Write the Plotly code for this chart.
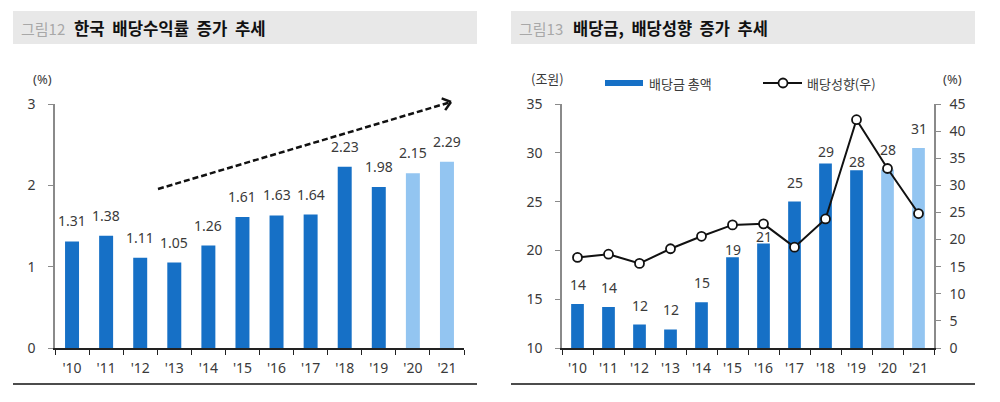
import math
import plotly.graph_objects as go

# ---------------- data ----------------
years = ["'10", "'11", "'12", "'13", "'14", "'15", "'16", "'17", "'18", "'19", "'20", "'21"]
yield_pct = [1.31, 1.38, 1.11, 1.05, 1.26, 1.61, 1.63, 1.64, 2.23, 1.98, 2.15, 2.29]
div_total = [14.5, 14.2, 12.4, 11.9, 14.7, 19.3, 20.7, 25.0, 28.9, 28.2, 28.3, 30.5]
div_labels = ["14", "14", "12", "12", "15", "19", "21", "25", "29", "28", "28", "31"]
payout = [16.7, 17.3, 15.6, 18.3, 20.6, 22.7, 22.9, 18.6, 23.8, 42.1, 33.1, 24.8]
is_estimate = [False] * 10 + [True, True]

DARK = "#1670C6"
LIGHT = "#93C5F1"
bar_colors = [LIGHT if e else DARK for e in is_estimate]
TXT = "#3a3a3a"
FONT = "Noto Sans, Noto Sans CJK KR, sans-serif"
KFONT = "Noto Sans CJK KR, Noto Sans, sans-serif"

W, H = 1000, 402
def px(x):
    return x / W
def py(y):
    return 1 - y / H

fig = go.Figure()

# ---------------- left chart ----------------
fig.add_trace(go.Bar(x=years, y=yield_pct, marker=dict(color=bar_colors, line=dict(width=0)),
                     xaxis="x", yaxis="y", showlegend=False))

annotations = []
for yr, v in zip(years, yield_pct):
    annotations.append(dict(x=yr, y=v, xref="x", yref="y", text=f"{v:.2f}", showarrow=False,
                            yanchor="bottom", yshift=9,
                            font=dict(family=FONT, size=14, color=TXT)))

# ---------------- right chart ----------------
fig.add_trace(go.Bar(x=years, y=div_total, marker=dict(color=bar_colors, line=dict(width=0)),
                     xaxis="x2", yaxis="y2", showlegend=False, name="배당금 총액"))
label_shift = [0, 0, 0, 0, 0, -12, -12, 0, -7, -11, 0, 0]
fig.add_trace(go.Scatter(x=years, y=payout, mode="lines+markers",
                         line=dict(color="#111111", width=2),
                         marker=dict(symbol="circle", size=9, color="white",
                                     line=dict(color="#111111", width=1.8)),
                         xaxis="x2", yaxis="y3", showlegend=False, name="배당성향(우)"))

for yr, v, lab, s in zip(years, div_total, div_labels, label_shift):
    annotations.append(dict(x=yr, y=v, xref="x2", yref="y2", text=lab, showarrow=False,
                            yanchor="bottom", yshift=8 + s,
                            font=dict(family=FONT, size=14, color=TXT)))

axis_common = dict(showgrid=False, zeroline=False, ticks="outside", ticklen=5, automargin=False,
                   tickfont=dict(family=FONT, size=14, color=TXT), fixedrange=True)

cat_range = [-0.5, len(years) - 0.5]
top, bot = 104, 348
fig.update_layout(
    width=W, height=H, margin=dict(l=0, r=0, t=0, b=0, pad=0), autosize=False,
    paper_bgcolor="white", plot_bgcolor="rgba(0,0,0,0)",
    bargap=0.59, showlegend=False,
    xaxis=dict(domain=[px(55), px(464)], anchor="y", type="category", range=cat_range,
               showline=True, linecolor="#222222", linewidth=1.5, tickson="boundaries",
               tickcolor="#222222", ticklabelstandoff=6, **axis_common),
    yaxis=dict(domain=[py(bot), py(top)], anchor="x", range=[0, 3], dtick=1,
               showline=True, linecolor="#8a8a8a", linewidth=1.5, tickcolor="#8a8a8a",
               ticklabelstandoff=10, **axis_common),
    xaxis2=dict(domain=[px(562), px(934)], anchor="y2", type="category", range=cat_range,
                showline=True, linecolor="#222222", linewidth=1.5, tickson="boundaries",
                tickcolor="#222222", ticklabelstandoff=6, **axis_common),
    yaxis2=dict(domain=[py(bot), py(top)], anchor="x2", range=[10, 35], dtick=5,
                showline=True, linecolor="#8a8a8a", linewidth=1.5, tickcolor="#8a8a8a",
                ticklabelstandoff=10, **axis_common),
    yaxis3=dict(overlaying="y2", side="right", anchor="x2", range=[0, 45], dtick=5,
                showline=True, linecolor="#8a8a8a", linewidth=1.5, tickcolor="#8a8a8a",
                ticklabelstandoff=6, **axis_common),
)

shapes = []
# title bands and bottom rules
for x0, x1 in [(13, 477), (511, 975)]:
    shapes.append(dict(type="rect", xref="paper", yref="paper", x0=px(x0), x1=px(x1),
                       y0=py(44), y1=py(11), fillcolor="#e8e8e8", line=dict(width=0), layer="below"))
    shapes.append(dict(type="line", xref="paper", yref="paper", x0=px(x0), x1=px(x1),
                       y0=py(384), y1=py(384), line=dict(color="#111111", width=1.5)))

# dashed trend arrow (left chart)
ax0, ay0, ax1, ay1 = 158, 189, 451, 102
shapes.append(dict(type="line", xref="paper", yref="paper", x0=px(ax0), y0=py(ay0),
                   x1=px(ax1 - 2), y1=py(ay1 + 0.6), line=dict(color="#111111", width=2.5, dash="6px,3px")))
dx, dy = ax1 - ax0, ay1 - ay0
L = math.hypot(dx, dy)
ux, uy = dx / L, dy / L
head = 10
for ang in (math.radians(38), -math.radians(38)):
    c, s_ = math.cos(ang), math.sin(ang)
    rx = -(ux * c - uy * s_)
    ry = -(ux * s_ + uy * c)
    shapes.append(dict(type="line", xref="paper", yref="paper", x0=px(ax1), y0=py(ay1),
                       x1=px(ax1 + rx * head), y1=py(ay1 + ry * head),
                       line=dict(color="#111111", width=2.5)))

# legend (right chart)
shapes.append(dict(type="rect", xref="paper", yref="paper", x0=px(605), x1=px(643),
                   y0=py(86), y1=py(80), fillcolor=DARK, line=dict(width=0)))
shapes.append(dict(type="line", xref="paper", yref="paper", x0=px(763), x1=px(802),
                   y0=py(83), y1=py(83), line=dict(color="#111111", width=2)))
shapes.append(dict(type="circle", xref="paper", yref="paper", x0=px(778.5), x1=px(787.5),
                   y0=py(87.5), y1=py(78.5), fillcolor="white", line=dict(color="#111111", width=1.8)))

def txt(x, y, s, size=14, color=TXT, family=KFONT, xanchor="left"):
    annotations.append(dict(x=px(x), y=py(y), xref="paper", yref="paper", text=s, showarrow=False,
                            xanchor=xanchor, yanchor="middle",
                            font=dict(family=family, size=size, color=color)))

txt(19, 28, "그림12", 15, "#a8a8a8")
txt(72, 28, "<b>한국  배당수익률  증가  추세</b>", 16.7, "#111111")
txt(517, 28, "그림13", 15, "#a8a8a8")
txt(571, 28, "<b>배당금,  배당성향  증가  추세</b>", 16.5, "#111111")
txt(42, 79, "(%)", 13, TXT, FONT, "center")
txt(547, 79, "(조원)", 13, TXT, KFONT, "center")
txt(952, 79, "(%)", 13, TXT, FONT, "center")
txt(647, 83, "배당금 총액", 13)
txt(805, 83, "배당성향(우)", 13)

fig.update_layout(shapes=shapes, annotations=annotations)
fig.write_html("out.html", config={"displayModeBar": False},
               post_script="document.body.style.margin='0';document.body.style.overflow='hidden';")
